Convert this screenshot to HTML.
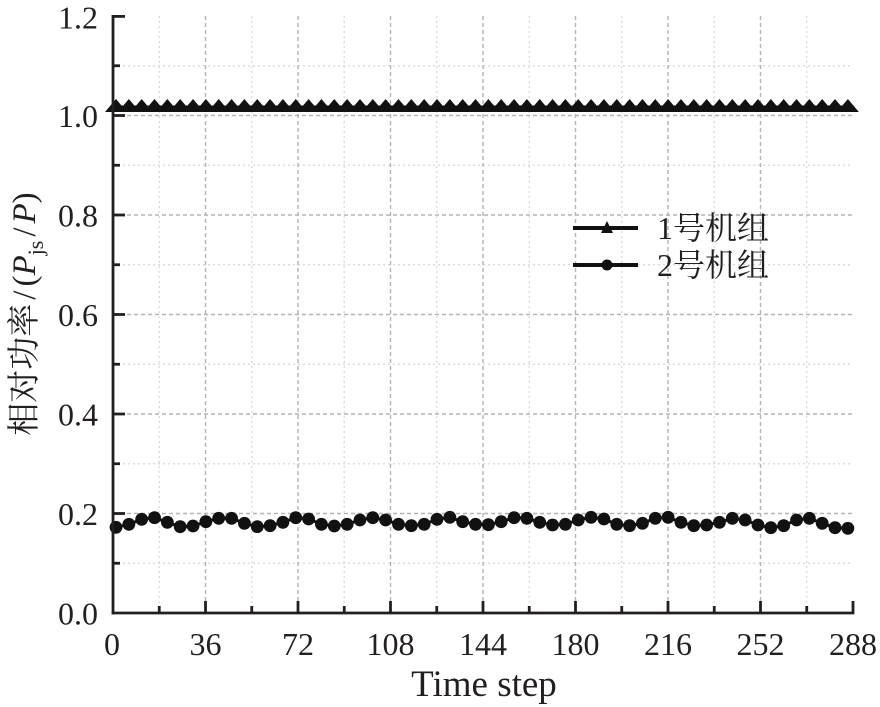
<!DOCTYPE html>
<html><head><meta charset="utf-8">
<style>
html,body{margin:0;padding:0;background:#fff;}
svg{display:block;}
text{font-family:"Liberation Serif","Noto Serif CJK SC",serif;fill:#231f20;}
</style></head>
<body>
<svg width="880" height="707" viewBox="0 0 880 707" xmlns="http://www.w3.org/2000/svg">
<defs>
<polygon id="t" points="-11,112 0,99 11,112" fill="#111"/>
</defs>
<!-- horizontal grid -->
<g stroke-width="1.4" fill="none">
<g stroke="#dcdcdc" stroke-dasharray="2,3">
<line x1="113" y1="563.25" x2="853" y2="563.25"/>
<line x1="113" y1="463.75" x2="853" y2="463.75"/>
<line x1="113" y1="364.25" x2="853" y2="364.25"/>
<line x1="113" y1="264.75" x2="853" y2="264.75"/>
<line x1="113" y1="165.25" x2="853" y2="165.25"/>
<line x1="113" y1="65.75" x2="853" y2="65.75"/>
</g>
<g stroke="#b4b4b4" stroke-dasharray="4,3">
<line x1="113" y1="513.5" x2="853" y2="513.5"/>
<line x1="113" y1="414" x2="853" y2="414"/>
<line x1="113" y1="314.5" x2="853" y2="314.5"/>
<line x1="113" y1="215" x2="853" y2="215"/>
<line x1="113" y1="115.5" x2="853" y2="115.5"/>
</g>
<!-- vertical grid -->
<g stroke="#dcdcdc" stroke-dasharray="2,3">
<line x1="159.25" y1="16" x2="159.25" y2="613"/>
<line x1="251.75" y1="16" x2="251.75" y2="613"/>
<line x1="344.25" y1="16" x2="344.25" y2="613"/>
<line x1="436.75" y1="16" x2="436.75" y2="613"/>
<line x1="529.25" y1="16" x2="529.25" y2="613"/>
<line x1="621.75" y1="16" x2="621.75" y2="613"/>
<line x1="714.25" y1="16" x2="714.25" y2="613"/>
<line x1="806.75" y1="16" x2="806.75" y2="613"/>
</g>
<g stroke="#b4b4b4" stroke-dasharray="4,3">
<line x1="205.5" y1="16" x2="205.5" y2="613"/>
<line x1="298" y1="16" x2="298" y2="613"/>
<line x1="390.5" y1="16" x2="390.5" y2="613"/>
<line x1="483" y1="16" x2="483" y2="613"/>
<line x1="575.5" y1="16" x2="575.5" y2="613"/>
<line x1="668" y1="16" x2="668" y2="613"/>
<line x1="760.5" y1="16" x2="760.5" y2="613"/>
</g>
</g>

<!-- series 1 (triangles) -->
<line x1="113" y1="108.5" x2="851" y2="108.5" stroke="#111" stroke-width="6"/>
<g>
<use href="#t" x="116"/><use href="#t" x="128.84"/><use href="#t" x="141.68"/><use href="#t" x="154.52"/><use href="#t" x="167.36"/><use href="#t" x="180.2"/><use href="#t" x="193.04"/><use href="#t" x="205.88"/><use href="#t" x="218.72"/><use href="#t" x="231.56"/>
<use href="#t" x="244.4"/><use href="#t" x="257.24"/><use href="#t" x="270.08"/><use href="#t" x="282.92"/><use href="#t" x="295.76"/><use href="#t" x="308.6"/><use href="#t" x="321.44"/><use href="#t" x="334.28"/><use href="#t" x="347.12"/><use href="#t" x="359.96"/>
<use href="#t" x="372.8"/><use href="#t" x="385.64"/><use href="#t" x="398.48"/><use href="#t" x="411.32"/><use href="#t" x="424.16"/><use href="#t" x="437"/><use href="#t" x="449.84"/><use href="#t" x="462.68"/><use href="#t" x="475.52"/><use href="#t" x="488.36"/>
<use href="#t" x="501.2"/><use href="#t" x="514.04"/><use href="#t" x="526.88"/><use href="#t" x="539.72"/><use href="#t" x="552.56"/><use href="#t" x="565.4"/><use href="#t" x="578.24"/><use href="#t" x="591.08"/><use href="#t" x="603.92"/><use href="#t" x="616.76"/>
<use href="#t" x="629.6"/><use href="#t" x="642.44"/><use href="#t" x="655.28"/><use href="#t" x="668.12"/><use href="#t" x="680.96"/><use href="#t" x="693.8"/><use href="#t" x="706.64"/><use href="#t" x="719.48"/><use href="#t" x="732.32"/><use href="#t" x="745.16"/>
<use href="#t" x="758"/><use href="#t" x="770.84"/><use href="#t" x="783.68"/><use href="#t" x="796.52"/><use href="#t" x="809.36"/><use href="#t" x="822.2"/><use href="#t" x="835.04"/><use href="#t" x="847.88"/>
</g>

<!-- series 2 (circles) -->
<polyline fill="none" stroke="#111" stroke-width="3" points="116,527.3 128.84,524.3 141.68,519.3 154.52,517.7 167.36,522.3 180.2,526.7 193.04,526 205.88,521.7 218.72,518.3 231.56,518.3 244.4,523.3 257.24,526.7 270.08,525.7 282.92,522.3 295.76,517.7 308.6,519 321.44,524.3 334.28,526 347.12,524.3 359.96,520 372.8,517.7 385.64,520 398.48,524.3 411.32,525.7 424.16,524.3 437,519.3 449.84,517.3 462.68,521.7 475.52,524.3 488.36,524.7 501.2,521.7 514.04,517.7 526.88,518.3 539.72,522.3 552.56,525 565.4,524.3 578.24,520 591.08,517.3 603.92,519 616.76,524.3 629.6,525.7 642.44,523.3 655.28,518.3 668.12,517.3 680.96,522.3 693.8,525.7 706.64,525 719.48,522.3 732.32,518.3 745.16,520 758,525 770.84,527.7 783.68,525.7 796.52,520 809.36,518.3 822.2,523.3 835.04,527.7 847.88,528.3"/>
<g fill="#111">
<circle cx="116" cy="527.3" r="6.4"/><circle cx="128.84" cy="524.3" r="6.4"/><circle cx="141.68" cy="519.3" r="6.4"/><circle cx="154.52" cy="517.7" r="6.4"/><circle cx="167.36" cy="522.3" r="6.4"/><circle cx="180.2" cy="526.7" r="6.4"/><circle cx="193.04" cy="526" r="6.4"/><circle cx="205.88" cy="521.7" r="6.4"/><circle cx="218.72" cy="518.3" r="6.4"/><circle cx="231.56" cy="518.3" r="6.4"/>
<circle cx="244.4" cy="523.3" r="6.4"/><circle cx="257.24" cy="526.7" r="6.4"/><circle cx="270.08" cy="525.7" r="6.4"/><circle cx="282.92" cy="522.3" r="6.4"/><circle cx="295.76" cy="517.7" r="6.4"/><circle cx="308.6" cy="519" r="6.4"/><circle cx="321.44" cy="524.3" r="6.4"/><circle cx="334.28" cy="526" r="6.4"/><circle cx="347.12" cy="524.3" r="6.4"/><circle cx="359.96" cy="520" r="6.4"/>
<circle cx="372.8" cy="517.7" r="6.4"/><circle cx="385.64" cy="520" r="6.4"/><circle cx="398.48" cy="524.3" r="6.4"/><circle cx="411.32" cy="525.7" r="6.4"/><circle cx="424.16" cy="524.3" r="6.4"/><circle cx="437" cy="519.3" r="6.4"/><circle cx="449.84" cy="517.3" r="6.4"/><circle cx="462.68" cy="521.7" r="6.4"/><circle cx="475.52" cy="524.3" r="6.4"/><circle cx="488.36" cy="524.7" r="6.4"/>
<circle cx="501.2" cy="521.7" r="6.4"/><circle cx="514.04" cy="517.7" r="6.4"/><circle cx="526.88" cy="518.3" r="6.4"/><circle cx="539.72" cy="522.3" r="6.4"/><circle cx="552.56" cy="525" r="6.4"/><circle cx="565.4" cy="524.3" r="6.4"/><circle cx="578.24" cy="520" r="6.4"/><circle cx="591.08" cy="517.3" r="6.4"/><circle cx="603.92" cy="519" r="6.4"/><circle cx="616.76" cy="524.3" r="6.4"/>
<circle cx="629.6" cy="525.7" r="6.4"/><circle cx="642.44" cy="523.3" r="6.4"/><circle cx="655.28" cy="518.3" r="6.4"/><circle cx="668.12" cy="517.3" r="6.4"/><circle cx="680.96" cy="522.3" r="6.4"/><circle cx="693.8" cy="525.7" r="6.4"/><circle cx="706.64" cy="525" r="6.4"/><circle cx="719.48" cy="522.3" r="6.4"/><circle cx="732.32" cy="518.3" r="6.4"/><circle cx="745.16" cy="520" r="6.4"/>
<circle cx="758" cy="525" r="6.4"/><circle cx="770.84" cy="527.7" r="6.4"/><circle cx="783.68" cy="525.7" r="6.4"/><circle cx="796.52" cy="520" r="6.4"/><circle cx="809.36" cy="518.3" r="6.4"/><circle cx="822.2" cy="523.3" r="6.4"/><circle cx="835.04" cy="527.7" r="6.4"/><circle cx="847.88" cy="528.3" r="6.4"/>
</g>

<!-- axes -->
<g stroke="#231f20" stroke-width="2.8" fill="none">
<line x1="113" y1="15" x2="113" y2="614.4"/>
<line x1="111.6" y1="613" x2="854.4" y2="613"/>
<line x1="113" y1="16.4" x2="125" y2="16.4"/>
<line x1="113" y1="115.5" x2="125" y2="115.5"/>
<line x1="113" y1="215" x2="125" y2="215"/>
<line x1="113" y1="314.5" x2="125" y2="314.5"/>
<line x1="113" y1="414" x2="125" y2="414"/>
<line x1="113" y1="513.5" x2="125" y2="513.5"/>
<line x1="113" y1="65.75" x2="120" y2="65.75"/>
<line x1="113" y1="165.25" x2="120" y2="165.25"/>
<line x1="113" y1="264.75" x2="120" y2="264.75"/>
<line x1="113" y1="364.25" x2="120" y2="364.25"/>
<line x1="113" y1="463.75" x2="120" y2="463.75"/>
<line x1="113" y1="563.25" x2="120" y2="563.25"/>
<line x1="205.5" y1="613" x2="205.5" y2="601"/>
<line x1="298" y1="613" x2="298" y2="601"/>
<line x1="390.5" y1="613" x2="390.5" y2="601"/>
<line x1="483" y1="613" x2="483" y2="601"/>
<line x1="575.5" y1="613" x2="575.5" y2="601"/>
<line x1="668" y1="613" x2="668" y2="601"/>
<line x1="760.5" y1="613" x2="760.5" y2="601"/>
<line x1="853" y1="613" x2="853" y2="601"/>
<line x1="159.25" y1="613" x2="159.25" y2="606"/>
<line x1="251.75" y1="613" x2="251.75" y2="606"/>
<line x1="344.25" y1="613" x2="344.25" y2="606"/>
<line x1="436.75" y1="613" x2="436.75" y2="606"/>
<line x1="529.25" y1="613" x2="529.25" y2="606"/>
<line x1="621.75" y1="613" x2="621.75" y2="606"/>
<line x1="714.25" y1="613" x2="714.25" y2="606"/>
<line x1="806.75" y1="613" x2="806.75" y2="606"/>
</g>

<!-- y tick labels -->
<g font-size="32" text-anchor="end">
<text x="98" y="28.5">1.2</text>
<text x="98" y="127">1.0</text>
<text x="98" y="226.5">0.8</text>
<text x="98" y="326">0.6</text>
<text x="98" y="425.5">0.4</text>
<text x="98" y="525">0.2</text>
<text x="98" y="624.5">0.0</text>
</g>
<!-- x tick labels -->
<g font-size="32" text-anchor="middle">
<text x="112" y="655">0</text>
<text x="205.5" y="655">36</text>
<text x="298" y="655">72</text>
<text x="390.5" y="655">108</text>
<text x="483" y="655">144</text>
<text x="575.5" y="655">180</text>
<text x="668" y="655">216</text>
<text x="760.5" y="655">252</text>
<text x="853" y="655">288</text>
</g>
<text x="484" y="696" font-size="37" text-anchor="middle">Time step</text>

<!-- y axis label -->
<text transform="translate(35,314) rotate(-90)" font-size="33" text-anchor="middle">相对功率<tspan dx="4">/</tspan><tspan dx="4">(</tspan><tspan font-style="italic">P</tspan><tspan font-size="22" dy="8">js</tspan><tspan dy="-8" dx="4">/</tspan><tspan dx="4" font-style="italic">P</tspan>)</text>

<!-- legend -->
<g stroke="#111" stroke-width="4">
<line x1="573" y1="228" x2="638" y2="228"/>
<line x1="573" y1="265" x2="638" y2="265"/>
</g>
<polygon points="601,233 607,221 613,233" fill="#111"/>
<circle cx="607" cy="265" r="5.5" fill="#111"/>
<g font-size="32">
<text x="657" y="239">1号机组</text>
<text x="657" y="276">2号机组</text>
</g>
</svg>
</body></html>
